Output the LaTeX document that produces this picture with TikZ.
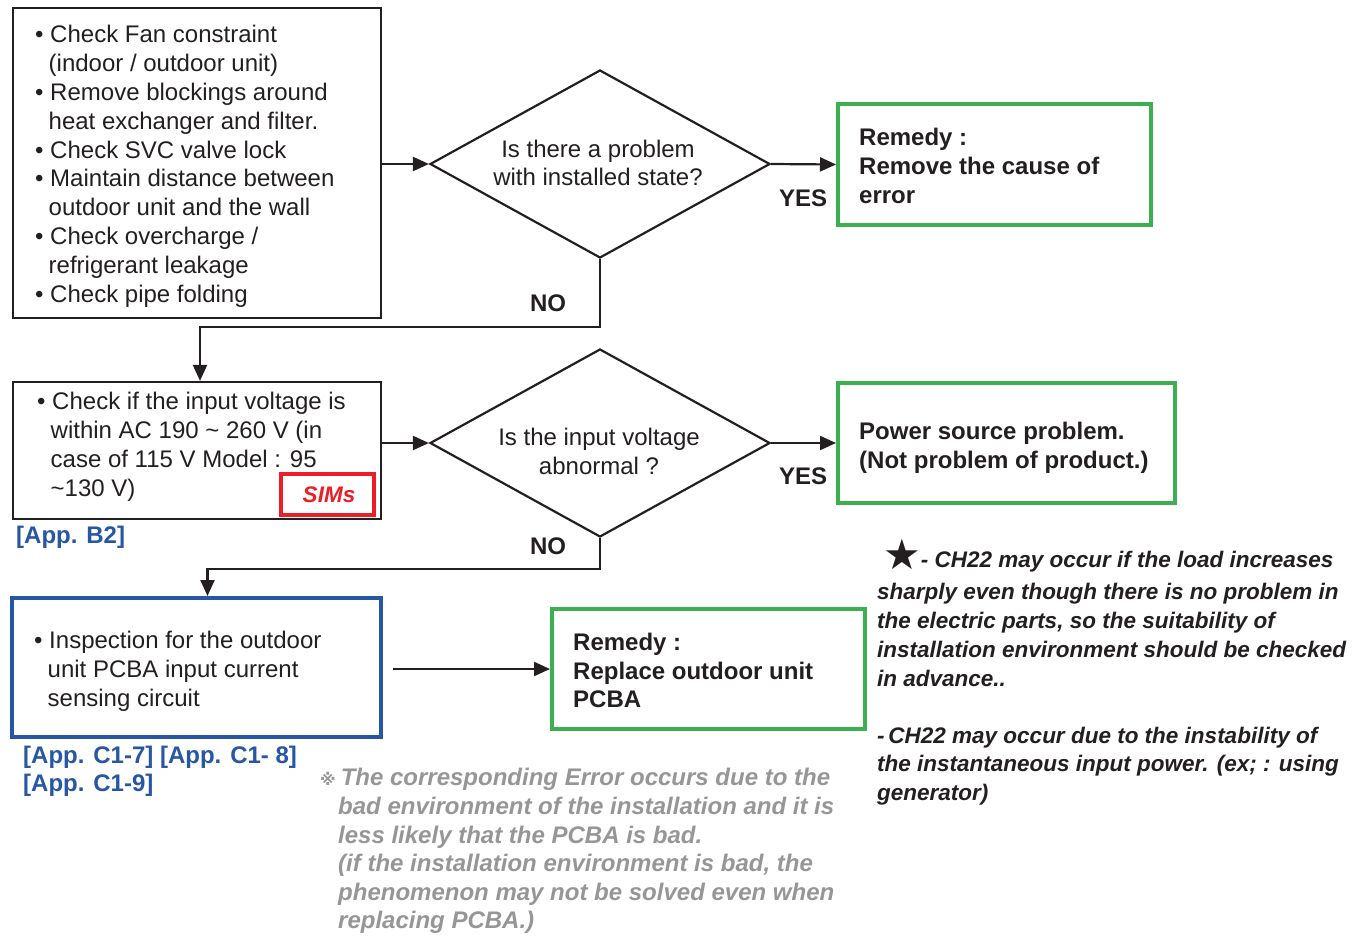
\documentclass[tikz,border=0pt]{standalone}
\usepackage{fontspec}
\setmainfont{Liberation Sans}
\newfontfamily\djv{DejaVu Sans}
\usetikzlibrary{arrows.meta,shapes.geometric}
\definecolor{gbox}{RGB}{60,176,80}
\definecolor{bbox}{RGB}{38,86,164}
\definecolor{rbox}{RGB}{236,30,40}
\definecolor{grayt}{RGB}{150,150,150}
\definecolor{ink}{RGB}{35,31,32}
\newcommand\tst{\rule{0pt}{20pt}}
\newcommand\ind{\hspace*{13.5pt}}
\tikzset{
  box/.style={rectangle, inner sep=0pt, draw=ink, line width=2.2pt},
  gbx/.style={rectangle, inner sep=0pt, draw=gbox, line width=4pt},
  bbx/.style={rectangle, inner sep=0pt, draw=bbox, line width=4pt},
  rbx/.style={rectangle, inner sep=0pt, draw=rbox, line width=3.5pt},
  dia/.style={diamond, inner sep=0pt, draw=ink, line width=2.2pt, minimum width=340pt, minimum height=188pt},
  txt/.style={inner sep=0pt, anchor=north west, align=left, text=ink, font=\fontsize{24}{29}\selectfont},
  btxt/.style={txt, font=\fontsize{24}{29}\selectfont\bfseries},
  ctxt/.style={txt, anchor=north, align=center},
  itx/.style={txt, font=\fontsize{22.5}{29}\selectfont\bfseries\itshape},
  gtx/.style={txt, text=grayt, font=\fontsize{24}{28.6}\selectfont\bfseries\itshape},
  apx/.style={txt, text=bbox, font=\fontsize{24}{28}\selectfont\bfseries},
  yn/.style={inner sep=0pt, anchor=base, text=ink, font=\fontsize{24}{29}\selectfont\bfseries},
  arr/.style={draw=ink, line width=2.2pt, -{Triangle[length=16pt,width=14pt]}},
}
\begin{document}
\begin{tikzpicture}[x=1pt,y=-1pt]
\useasboundingbox (0,0) rectangle (1356,937);

% boxes
\node[box, minimum width=368pt, minimum height=310pt] (b1) at (197,163) {};
\node[box, minimum width=368pt, minimum height=137pt] (b2) at (197,450.5) {};
\node[bbx, minimum width=369pt, minimum height=139pt] (b3) at (196.5,667.5) {};
\node[gbx, minimum width=313pt, minimum height=121pt] (g1) at (994.5,164.5) {};
\node[gbx, minimum width=337pt, minimum height=120pt] (g2) at (1006.5,443) {};
\node[gbx, minimum width=313pt, minimum height=120pt] (g3) at (708.5,669) {};
\node[rbx, minimum width=93pt, minimum height=41pt] (sims) at (327.5,494.5) {};
\node[dia] (d1) at (600,164) {};
\node[dia] (d2) at (600,443) {};

% texts in boxes
\node[txt, font=\fontsize{24}{28.8}\selectfont] (t1) at (35,22.6) {\tst• Check Fan constraint\\
\ind(indoor / outdoor unit)\\
• Remove blockings around\\
\ind heat exchanger and filter.\\
• Check SVC valve lock\\
• Maintain distance between\\
\ind outdoor unit and the wall\\
• Check overcharge /\\
\ind refrigerant leakage\\
• Check pipe folding};
\node[txt] (t2) at (37,389.6) {\tst• Check if the input voltage is\\
\ind within AC 190 \textasciitilde{} 260 V (in\\
\ind case of 115 V Model : 95\\
\ind\textasciitilde130 V)};
\node[txt] (t3) at (34,628.6) {\tst• Inspection for the outdoor\\
\ind unit PCBA input current\\
\ind sensing circuit};
\node[btxt] (tg1) at (859,125.6) {\tst Remedy :\\ Remove the cause of\\ error};
\node[btxt] (tg2) at (859,419.6) {\tst Power source problem.\\ (Not problem of product.)};
\node[btxt, font=\fontsize{24}{28.5}\selectfont\bfseries] (tg3) at (573,630.6) {\tst Remedy :\\ Replace outdoor unit\\ PCBA};
\node[ctxt, font=\fontsize{24}{28}\selectfont] (td1) at (598,137.6) {\tst Is there a problem\\ with installed state?};
\node[ctxt] (td2) at (599,425.6) {\tst Is the input voltage\\ abnormal ?};
\node[inner sep=0pt, anchor=base, text=rbox, font=\fontsize{22.5}{26}\selectfont\bfseries\itshape] (tsims) at (329,502.5) {SIMs};

% yes / no
\node[yn] (y1) at (803,206.6) {YES};
\node[yn] (n1) at (548,311.6) {NO};
\node[yn] (y2) at (803,484.6) {YES};
\node[yn] (n2) at (548,554.6) {NO};

% connectors
\draw[arr] (b1.east |- d1.west) -- (d1.west);
\draw[arr] (d1.east) -- (g1.west);
\draw[arr] (d1.south) -- ++(0,68) -| ([xshift=3pt]b2.north);
\draw[arr] (b2.east |- d2.west) -- (d2.west);
\draw[arr] (d2.east) -- (g2.west);
\draw[arr] (d2.south) -- ++(0,31) -| ([xshift=11pt]b3.north);
\draw[arr] ([xshift=10pt]b3.east |- g3.west) -- (g3.west);

% references
\node[inner sep=0pt, anchor=base west, text=bbox, font=\fontsize{24}{28}\selectfont\bfseries] (ab2) at (16,543.6) {[App. B2]};
\node[apx] (ac1) at (23,743.6) {\tst{}[App. C1-7] [App. C1- 8]\\{}[App. C1-9]};

% notes
\node[gtx] (gnote) at (320,765.6) {\tst{\djv\fontsize{16}{16}\selectfont ※}\hspace{5pt}The corresponding Error occurs due to the\\
\hspace*{18pt}bad environment of the installation and it is\\
\hspace*{18pt}less likely that the PCBA is bad.\\
\hspace*{18pt}(if the installation environment is bad, the\\
\hspace*{18pt}phenomenon may not be solved even when\\
\hspace*{18pt}replacing PCBA.)};
\node[itx] (note1) at (877,547) {\tst\hspace*{6pt}\smash{\raisebox{-2pt}{\djv\fontsize{42}{42}\selectfont ★}}- CH22 may occur if the load increases\\[3pt]
sharply even though there is no problem in\\
the electric parts, so the suitability of\\
installation environment should be checked\\
in advance..};
\node[itx, font=\fontsize{22.5}{28.5}\selectfont\bfseries\itshape] (note2) at (877,723) {\tst-\,CH22 may occur due to the instability of\\
the instantaneous input power. (ex; : using\\
generator)};
\end{tikzpicture}
\end{document}
